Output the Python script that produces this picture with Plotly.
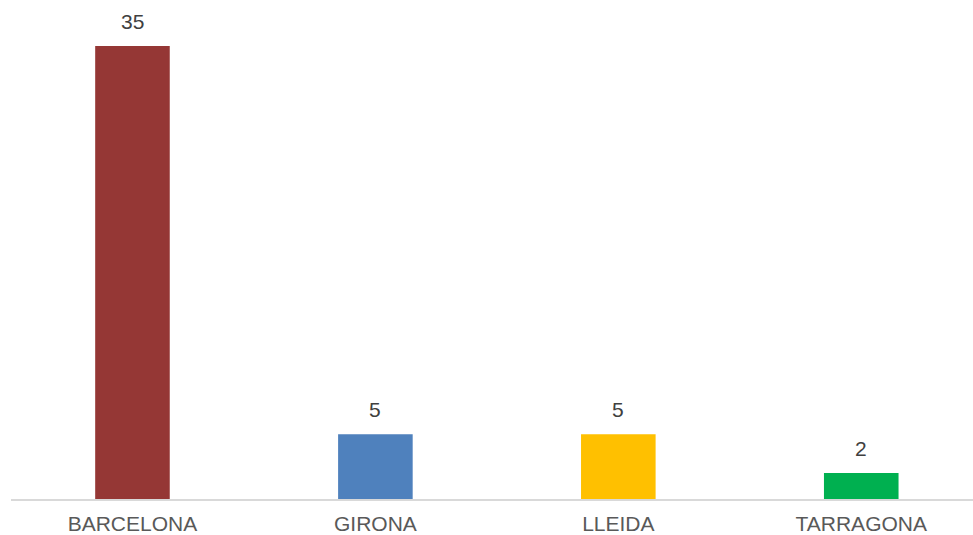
import plotly.graph_objects as go

categories = ["BARCELONA", "GIRONA", "LLEIDA", "TARRAGONA"]
values = [35, 5, 5, 2]
colors = ["#953735", "#4F81BD", "#FFC000", "#00B050"]

fig = go.Figure()
fig.add_trace(go.Bar(
    x=list(range(len(categories))),
    y=values,
    marker=dict(color=colors, line=dict(width=0)),
    width=0.307,
    hoverinfo="skip",
))

for i, v in enumerate(values):
    fig.add_annotation(
        x=i, y=v, text=str(v), showarrow=False,
        yanchor="bottom", yshift=11,
        font=dict(family="Liberation Sans, Arial", size=21, color="#404040"),
    )

fig.update_layout(
    width=973, height=535,
    margin=dict(l=11, r=0, t=0, b=34),
    paper_bgcolor="white", plot_bgcolor="white",
    showlegend=False,
    font=dict(family="Liberation Sans, Arial", size=21, color="#595959"),
    xaxis=dict(
        range=[-0.5, 3.46],
        tickmode="array",
        tickvals=list(range(len(categories))),
        ticktext=categories,
        showline=True, linecolor="#D9D9D9", linewidth=1.5,
        showgrid=False, zeroline=False, ticks="",
        ticklabelstandoff=5,
        tickfont=dict(size=21, color="#595959"),
    ),
    yaxis=dict(
        range=[0, 38.55],
        visible=False,
        showgrid=False, zeroline=False,
    ),
)

fig.write_html(
    "out.html",
    config={"displayModeBar": False},
    post_script="document.body.style.margin='0';document.body.style.overflow='hidden';",
)
